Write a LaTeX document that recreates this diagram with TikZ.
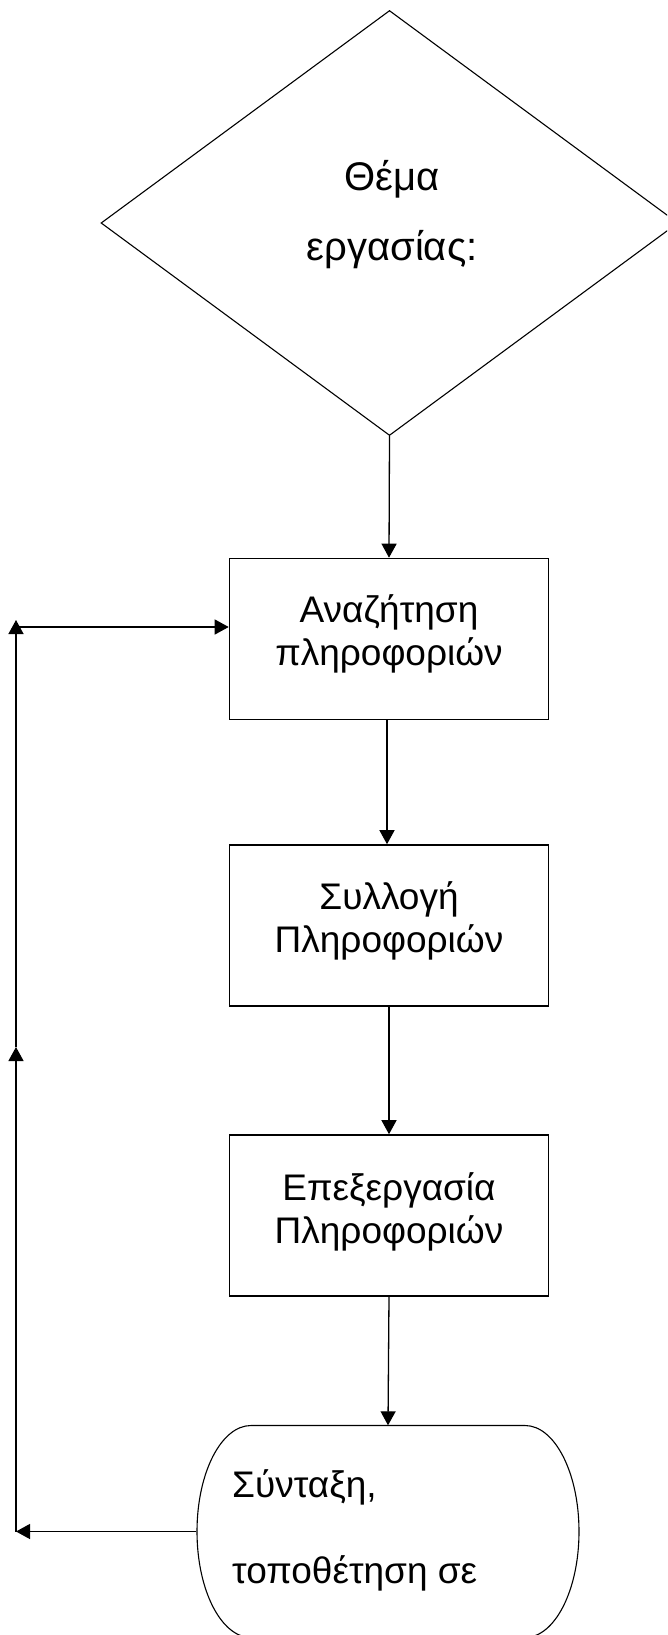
\documentclass[tikz,border=0pt]{standalone}
\usepackage{fontspec}
\setmainfont{Liberation Sans}
\usetikzlibrary{arrows.meta,shapes.geometric}
\begin{document}
\begin{tikzpicture}[x=1pt,y=-1pt,
  arr/.style={line width=1.3pt,-{Triangle[length=14pt,width=15pt]}},
  procbox/.style={draw,line width=1.6pt,rectangle,minimum width=319pt,minimum height=161pt,inner sep=0pt},
  boxtext/.style={align=center,inner sep=0pt,font=\fontsize{37}{43}\selectfont},
  bigtext/.style={inner sep=0pt}
]
\useasboundingbox (0,0) rectangle (667,1635);
\clip (0,0) rectangle (667,1635);
\fill[white] (0,0) rectangle (667,1635);

\node[draw,line width=1.1pt,diamond,minimum width=577pt,minimum height=425pt,inner sep=0pt] (topic) at (389.5,223) {};
\node[bigtext,align=center,font=\fontsize{40}{70}\selectfont] (topictext) at (392,215) {Θέμα\\εργασίας:};

\node[procbox] (search) at (389,639) {};
\node[boxtext] (searchtext) at (389,634) {Αναζήτηση\\πληροφοριών};
\node[procbox] (collect) at (389,925.5) {};
\node[boxtext] (collecttext) at (389,920.5) {Συλλογή\\Πληροφοριών};
\node[procbox] (process) at (389,1215.5) {};
\node[boxtext] (processtext) at (389,1212) {Επεξεργασία\\Πληροφοριών};

\node[rectangle,minimum width=383pt,minimum height=212pt,inner sep=0pt] (syn) at (388,1531.5) {};
\draw[line width=1.1pt] (251,1425.5) -- (525,1425.5)
  arc[start angle=-90,end angle=90,x radius=54,y radius=106]
  -- (251,1637.5)
  arc[start angle=90,end angle=270,x radius=54,y radius=106] -- cycle;
\node[bigtext,align=left,anchor=west,font=\fontsize{37}{86}\selectfont] (syntext) at (232,1530) {Σύνταξη,\\τοποθέτηση σε};

\coordinate (c1) at (16,1531.5);
\coordinate (c2) at (16,1047);
\coordinate (c3) at (16,620);
\coordinate (c4) at (16,627);

\draw[arr] (topic.south) -- (search.north);
\draw[arr] ([xshift=-2pt]search.south) -- ([xshift=-2pt]collect.north);
\draw[arr] (collect.south) -- (process.north);
\draw[arr] (process.south) -- (syn.north);
\draw[arr] (syn.west) -- (c1);
\draw[arr] (c1) -- (c2);
\draw[arr] (c2) -- (c3);
\draw[arr] (c4) -- (c4 -| search.west);
\end{tikzpicture}
\end{document}
